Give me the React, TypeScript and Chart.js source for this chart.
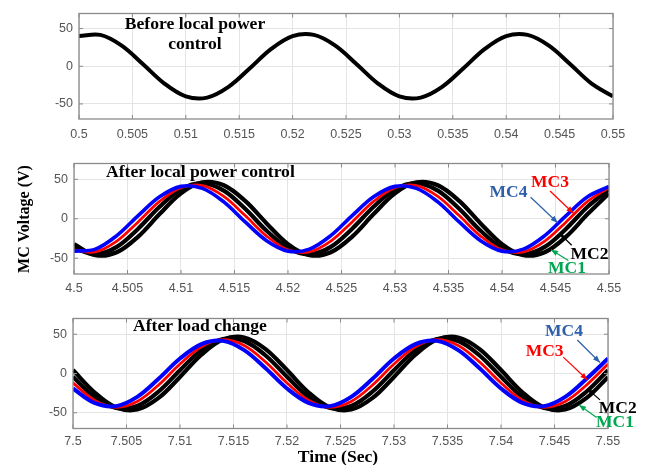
import React, { useEffect, useRef } from 'react';
import { Chart, registerables } from 'chart.js';

Chart.register(...registerables);

// ---------------- data ----------------
const timeTop = [0.5, 0.502, 0.504, 0.506, 0.508, 0.51, 0.512, 0.514, 0.516, 0.518, 0.52, 0.522, 0.524, 0.526, 0.528, 0.53, 0.532, 0.534, 0.536, 0.538, 0.54, 0.542, 0.544, 0.546, 0.548, 0.55];
const timeMid = [4.5, 4.502, 4.504, 4.506, 4.508, 4.51, 4.512, 4.514, 4.516, 4.518, 4.52, 4.522, 4.524, 4.526, 4.528, 4.53, 4.532, 4.534, 4.536, 4.538, 4.54, 4.542, 4.544, 4.546, 4.548, 4.55];
const timeBot = [7.5, 7.502, 7.504, 7.506, 7.508, 7.51, 7.512, 7.514, 7.516, 7.518, 7.52, 7.522, 7.524, 7.526, 7.528, 7.53, 7.532, 7.534, 7.536, 7.538, 7.54, 7.542, 7.544, 7.546, 7.548, 7.55];

const beforeMC = [40.0, 41.6, 27.4, 2.7, -23.0, -40.0, -41.6, -27.4, -2.7, 23.0, 40.0, 41.6, 27.4, 2.7, -23.0, -40.0, -41.6, -27.4, -2.7, 23.0, 40.0, 41.6, 27.4, 2.7, -23.0, -40.0];

const midMC4 = [-41.0, -38.5, -21.4, 4.0, 27.8, 41.0, 38.5, 21.4, -4.0, -27.8, -41.0, -38.5, -21.4, 4.0, 27.8, 41.0, 38.5, 21.4, -4.0, -27.8, -41.0, -38.5, -21.4, 4.0, 27.8, 41.0];
const midMC3 = [-39.5, -42.0, -28.4, -4.0, 21.9, 39.5, 42.0, 28.4, 4.0, -21.9, -39.5, -42.0, -28.4, -4.0, 21.9, 39.5, 42.0, 28.4, 4.0, -21.9, -39.5, -42.0, -28.4, -4.0, 21.9, 39.5];
const midMC2 = [-37.2, -45.0, -35.6, -12.6, 15.2, 37.2, 45.0, 35.6, 12.6, -15.2, -37.2, -45.0, -35.6, -12.6, 15.2, 37.2, 45.0, 35.6, 12.6, -15.2, -37.2, -45.0, -35.6, -12.6, 15.2, 37.2];
const midMC1 = [-32.2, -46.2, -42.5, -22.6, 5.9, 32.2, 46.2, 42.5, 22.6, -5.9, -32.2, -46.2, -42.5, -22.6, 5.9, 32.2, 46.2, 42.5, 22.6, -5.9, -32.2, -46.2, -42.5, -22.6, 5.9, 32.2];

const botMC4 = [-19.1, -37.4, -41.5, -29.7, -6.6, 19.1, 37.4, 41.5, 29.7, 6.6, -19.1, -37.4, -41.5, -29.7, -6.6, 19.1, 37.4, 41.5, 29.7, 6.6, -19.1, -37.4, -41.5, -29.7, -6.6, 19.1];
const botMC3 = [-12.0, -34.0, -43.0, -35.6, -14.6, 12.0, 34.0, 43.0, 35.6, 14.6, -12.0, -34.0, -43.0, -35.6, -14.6, 12.0, 34.0, 43.0, 35.6, 14.6, -12.0, -34.0, -43.0, -35.6, -14.6, 12.0];
const botMC2 = [-4.2, -29.8, -43.9, -41.3, -22.9, 4.2, 29.8, 43.9, 41.3, 22.9, -4.2, -29.8, -43.9, -41.3, -22.9, 4.2, 29.8, 43.9, 41.3, 22.9, -4.2, -29.8, -43.9, -41.3, -22.9, 4.2];
const botMC1 = [4.4, -23.9, -43.1, -45.9, -31.1, -4.4, 23.9, 43.1, 45.9, 31.1, 4.4, -23.9, -43.1, -45.9, -31.1, -4.4, 23.9, 43.1, 45.9, 31.1, 4.4, -23.9, -43.1, -45.9, -31.1, -4.4];

const xTicksTop = [0.5, 0.505, 0.51, 0.515, 0.52, 0.525, 0.53, 0.535, 0.54, 0.545, 0.55];
const xLabelsTop = ['0.5', '0.505', '0.51', '0.515', '0.52', '0.525', '0.53', '0.535', '0.54', '0.545', '0.55'];
const xTicksMid = [4.5, 4.505, 4.51, 4.515, 4.52, 4.525, 4.53, 4.535, 4.54, 4.545, 4.55];
const xLabelsMid = ['4.5', '4.505', '4.51', '4.515', '4.52', '4.525', '4.53', '4.535', '4.54', '4.545', '4.55'];
const xTicksBot = [7.5, 7.505, 7.51, 7.515, 7.52, 7.525, 7.53, 7.535, 7.54, 7.545, 7.55];
const xLabelsBot = ['7.5', '7.505', '7.51', '7.515', '7.52', '7.525', '7.53', '7.535', '7.54', '7.545', '7.55'];
const yTicks = [-50, 0, 50];
const yLabels = ['-50', '0', '50'];

// ---------------- styling ----------------
const SERIF = "'Liberation Serif', 'Times New Roman', serif";
const SANS = "'Liberation Sans', Arial, Helvetica, sans-serif";
const TICK_COLOR = '#555555';
const GRID_COLOR = '#e4e4e4';
const FRAME_COLOR = '#8a8a8a';
const W = 651;

type Series = { label: string; data: number[]; color: string; width: number };
type Note = { text: string; color: string; at: [number, number]; from: [number, number]; to: [number, number] };
type TitleLine = { text: string; dx: number; dy: number; align: CanvasTextAlign };
type PanelCfg = {
  top: number;
  height: number;
  area: { left: number; right: number; top: number; bottom: number };
  times: number[];
  series: Series[];
  xTicks: number[];
  xLabels: string[];
  tickPad: number;
  titles: TitleLine[];
  notes: Note[];
  extra?: (ctx: CanvasRenderingContext2D) => void;
};

function drawStretched(ctx: CanvasRenderingContext2D, text: string, x: number, y: number, align: CanvasTextAlign) {
  ctx.save();
  ctx.translate(x, y);
  ctx.scale(1.1, 1);
  ctx.textAlign = align;
  ctx.textBaseline = 'alphabetic';
  ctx.fillText(text, 0, 0);
  ctx.restore();
}

function Panel({ cfg }: { cfg: PanelCfg }) {
  const ref = useRef<HTMLCanvasElement | null>(null);
  useEffect(() => {
    if (!ref.current) return;
    const { area, height } = cfg;
    const framePlugin = {
      id: 'framePlugin',
      afterDraw(chart: any) {
        const ctx: CanvasRenderingContext2D = chart.ctx;
        const a = chart.chartArea;
        const xs = chart.scales.x;
        const ys = chart.scales.y;
        ctx.save();
        ctx.strokeStyle = FRAME_COLOR;
        ctx.lineWidth = 1.3;
        ctx.strokeRect(a.left, a.top, a.right - a.left, a.bottom - a.top);
        ctx.lineWidth = 1;
        ctx.beginPath();
        cfg.xTicks.forEach((v) => {
          const px = xs.getPixelForValue(v);
          ctx.moveTo(px, a.bottom);
          ctx.lineTo(px, a.bottom - 4);
          ctx.moveTo(px, a.top);
          ctx.lineTo(px, a.top + 4);
        });
        yTicks.forEach((v) => {
          const py = ys.getPixelForValue(v);
          ctx.moveTo(a.left, py);
          ctx.lineTo(a.left + 4, py);
          ctx.moveTo(a.right, py);
          ctx.lineTo(a.right - 4, py);
        });
        ctx.stroke();
        ctx.fillStyle = '#000';
        ctx.font = `bold 16px ${SERIF}`;
        cfg.titles.forEach((t) => drawStretched(ctx, t.text, a.left + t.dx, a.top + t.dy, t.align));
        cfg.notes.forEach((n) => {
          const tx = xs.getPixelForValue(n.at[0]);
          const ty = ys.getPixelForValue(n.at[1]);
          ctx.font = `bold 17.5px ${SERIF}`;
          ctx.fillStyle = n.color;
          ctx.textAlign = 'center';
          ctx.textBaseline = 'middle';
          ctx.fillText(n.text, tx, ty);
          const fx = xs.getPixelForValue(n.from[0]);
          const fy = ys.getPixelForValue(n.from[1]);
          const ex = xs.getPixelForValue(n.to[0]);
          const ey = ys.getPixelForValue(n.to[1]);
          ctx.strokeStyle = n.color;
          ctx.lineWidth = 1.2;
          ctx.beginPath();
          ctx.moveTo(fx, fy);
          ctx.lineTo(ex, ey);
          ctx.stroke();
          const ang = Math.atan2(ey - fy, ex - fx);
          const L = 7;
          const Hw = 2.8;
          const c = Math.cos(ang);
          const s = Math.sin(ang);
          ctx.beginPath();
          ctx.moveTo(ex, ey);
          ctx.lineTo(ex - L * c + Hw * s, ey - L * s - Hw * c);
          ctx.lineTo(ex - L * c - Hw * s, ey - L * s + Hw * c);
          ctx.closePath();
          ctx.fill();
        });
        if (cfg.extra) cfg.extra(ctx);
        ctx.restore();
      },
    };

    const chart = new Chart(ref.current, {
      type: 'line',
      data: {
        datasets: cfg.series.map((s) => ({
          label: s.label,
          data: cfg.times.map((t, i) => ({ x: t, y: s.data[i] })),
          borderColor: s.color,
          backgroundColor: s.color,
          borderWidth: s.width,
          pointRadius: 0,
          tension: 0.35,
          fill: false,
        })),
      },
      options: {
        responsive: false,
        maintainAspectRatio: false,
        animation: false,
        events: [],
        layout: {
          autoPadding: false,
          padding: { left: 0, top: area.top, right: W - area.right, bottom: 0 },
        },
        plugins: { legend: { display: false }, tooltip: { enabled: false }, title: { display: false } },
        scales: {
          x: {
            type: 'linear',
            min: cfg.xTicks[0],
            max: cfg.xTicks[cfg.xTicks.length - 1],
            afterBuildTicks: (s: any) => {
              s.ticks = cfg.xTicks.map((v) => ({ value: v }));
            },
            afterFit: (s: any) => {
              s.height = height - area.bottom;
            },
            ticks: {
              autoSkip: false,
              maxRotation: 0,
              minRotation: 0,
              padding: cfg.tickPad,
              color: TICK_COLOR,
              font: { family: SANS, size: 12.5 },
              callback: (_v: any, i: number) => cfg.xLabels[i],
            },
            grid: { color: GRID_COLOR, lineWidth: 1, drawTicks: false },
            border: { display: false },
          },
          y: {
            type: 'linear',
            min: -70,
            max: 70,
            afterBuildTicks: (s: any) => {
              s.ticks = yTicks.map((v) => ({ value: v }));
            },
            afterFit: (s: any) => {
              s.width = area.left;
            },
            ticks: {
              padding: 6,
              color: TICK_COLOR,
              font: { family: SANS, size: 12.5 },
              callback: (_v: any, i: number) => yLabels[i],
            },
            grid: { color: GRID_COLOR, lineWidth: 1, drawTicks: false },
            border: { display: false },
          },
        },
      } as any,
      plugins: [framePlugin],
    });
    return () => chart.destroy();
  }, [cfg]);
  return (
    <canvas
      ref={ref}
      width={W}
      height={cfg.height}
      style={{ position: 'absolute', left: 0, top: cfg.top, width: W, height: cfg.height }}
    />
  );
}

const BLUE = '#0000ff';
const RED = '#ff0000';
const BLACK = '#000000';
const NOTE_BLUE = '#2d5fab';
const NOTE_GREEN = '#00a651';

const topCfg: PanelCfg = {
  top: 0,
  height: 150,
  area: { left: 79, right: 613, top: 3.5, bottom: 119 },
  times: timeTop,
  series: [{ label: 'MC', data: beforeMC, color: BLACK, width: 4 }],
  xTicks: xTicksTop,
  xLabels: xLabelsTop,
  tickPad: 8,
  titles: [
    { text: 'Before local power', dx: 116, dy: 15.5, align: 'center' },
    { text: 'control', dx: 116, dy: 35.5, align: 'center' },
  ],
  notes: [],
};

const midCfg: PanelCfg = {
  top: 150,
  height: 155,
  area: { left: 74, right: 609, top: 7.5, bottom: 124 },
  times: timeMid,
  series: [
    { label: 'MC4', data: midMC4, color: BLUE, width: 3.6 },
    { label: 'MC3', data: midMC3, color: RED, width: 2.8 },
    { label: 'MC2', data: midMC2, color: BLACK, width: 4.2 },
    { label: 'MC1', data: midMC1, color: BLACK, width: 4.2 },
  ],
  xTicks: xTicksMid,
  xLabels: xLabelsMid,
  tickPad: 7,
  titles: [{ text: 'After local power control', dx: 32, dy: 13.5, align: 'left' }],
  notes: [
    { text: 'MC4', color: NOTE_BLUE, at: [4.54061, 33.3], from: [4.54268, 27.2], to: [4.5452, -5] },
    { text: 'MC3', color: RED, at: [4.54449, 46.2], from: [4.54449, 35.2], to: [4.54667, 7] },
    { text: 'MC2', color: BLACK, at: [4.54818, -45.3], from: [4.54651, -33.6], to: [4.54542, -19] },
    { text: 'MC1', color: NOTE_GREEN, at: [4.54607, -62.8], from: [4.5462, -52.8], to: [4.54458, -39.3] },
  ],
  extra: (ctx) => {
    ctx.save();
    ctx.fillStyle = '#000';
    ctx.font = `bold 16px ${SERIF}`;
    ctx.translate(29, 69);
    ctx.rotate(-Math.PI / 2);
    ctx.textAlign = 'center';
    ctx.textBaseline = 'alphabetic';
    ctx.fillText('MC Voltage (V)', 0, 0);
    ctx.restore();
  },
};

const botCfg: PanelCfg = {
  top: 305,
  height: 160,
  area: { left: 73, right: 608, top: 5, bottom: 123.5 },
  times: timeBot,
  series: [
    { label: 'MC4', data: botMC4, color: BLUE, width: 4 },
    { label: 'MC3', data: botMC3, color: RED, width: 2.8 },
    { label: 'MC2', data: botMC2, color: BLACK, width: 4.2 },
    { label: 'MC1', data: botMC1, color: BLACK, width: 4.2 },
  ],
  xTicks: xTicksBot,
  xLabels: xLabelsBot,
  tickPad: 6,
  titles: [{ text: 'After load change', dx: 60, dy: 12, align: 'left' }],
  notes: [
    { text: 'MC4', color: NOTE_BLUE, at: [7.54589, 53.6], from: [7.54713, 42.6], to: [7.54925, 14] },
    { text: 'MC3', color: RED, at: [7.54408, 27.6], from: [7.54582, 20.8], to: [7.54807, -8] },
    { text: 'MC2', color: BLACK, at: [7.55091, -44.3], from: [7.54925, -33.6], to: [7.54807, -19.5] },
    { text: 'MC1', color: NOTE_GREEN, at: [7.55065, -62], from: [7.54894, -56.1], to: [7.54729, -40] },
  ],
  extra: (ctx) => {
    ctx.save();
    ctx.fillStyle = '#000';
    ctx.font = `bold 16px ${SERIF}`;
    drawStretched(ctx, 'Time (Sec)', 338, 157, 'center');
    ctx.restore();
  },
};

export default function App() {
  return (
    <div style={{ position: 'absolute', left: 0, top: 0, width: W, height: 465, background: '#ffffff', overflow: 'hidden' }}>
      <Panel cfg={topCfg} />
      <Panel cfg={midCfg} />
      <Panel cfg={botCfg} />
    </div>
  );
}
